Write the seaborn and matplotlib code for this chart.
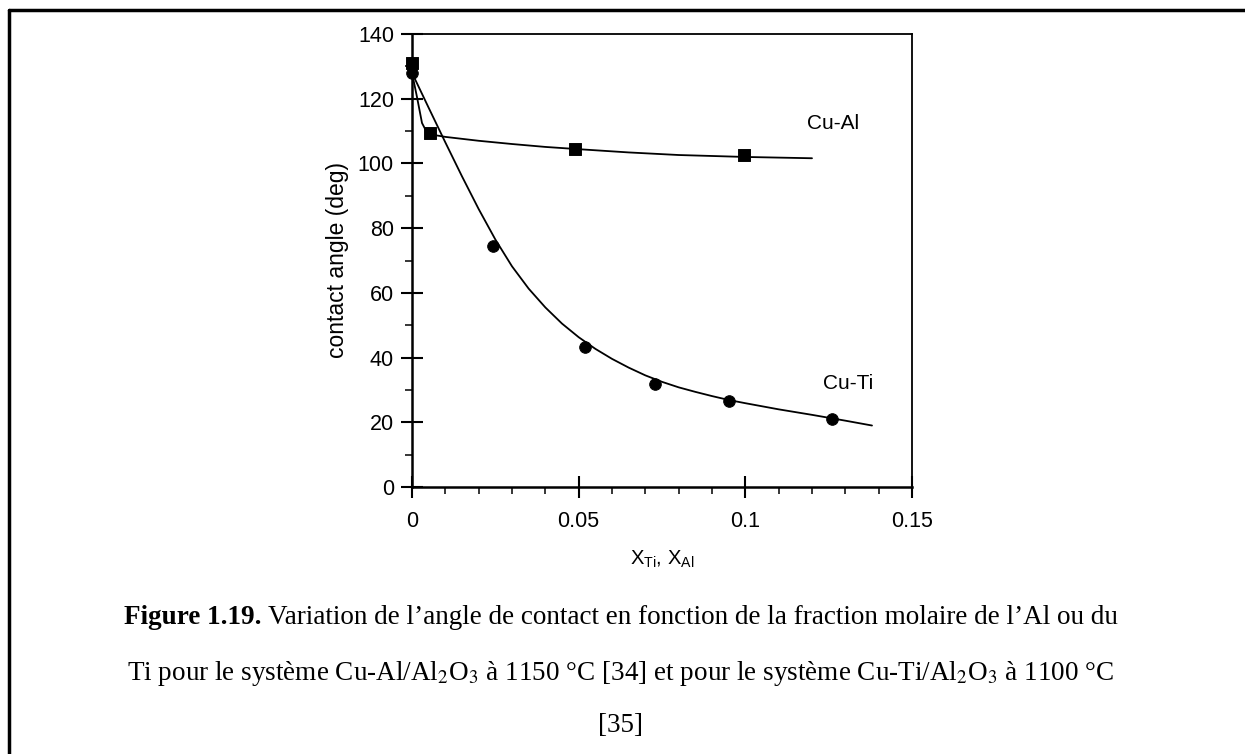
import numpy as np
import pandas as pd
import matplotlib
matplotlib.use("Agg")
import matplotlib.pyplot as plt
import seaborn as sns
from matplotlib.lines import Line2D
from matplotlib.ticker import MultipleLocator

# measured points
al_x = [0.0, 0.0055, 0.049, 0.0995]
al_y = [131.0, 109.3, 104.4, 102.6]
ti_x = [0.0, 0.0243, 0.052, 0.0728, 0.0952, 0.126]
ti_y = [128.0, 74.6, 43.4, 31.9, 26.6, 21.1]

# fitted curves
al_curve_x = [0.0, 0.0015, 0.003, 0.0045, 0.006, 0.01, 0.02, 0.03, 0.04, 0.05, 0.065, 0.08, 0.1, 0.12]
al_curve_y = [128.0, 120.5, 112.5, 109.5, 108.9, 108.2, 107.0, 106.0, 105.1, 104.4, 103.4, 102.6, 102.0, 101.6]
ti_curve_x = [0.0, 0.005, 0.01, 0.015, 0.02, 0.025, 0.03, 0.035, 0.04, 0.045, 0.05, 0.055,
              0.06, 0.065, 0.07, 0.075, 0.08, 0.085, 0.09, 0.095, 0.1, 0.11, 0.12, 0.13, 0.138]
ti_curve_y = [128.0, 117.2, 106.5, 96.0, 85.9, 76.5, 68.2, 61.3, 55.5, 50.5, 46.3, 42.7,
              39.6, 36.9, 34.5, 32.5, 30.8, 29.4, 28.1, 26.9, 25.9, 24.0, 22.3, 20.5, 19.0]

sns.set_style("white")
plt.rcParams['font.family'] = ['Liberation Sans', 'DejaVu Sans']
plt.rcParams['text.color'] = 'black'
plt.rcParams['axes.labelcolor'] = 'black'

fig = plt.figure(figsize=(12.45, 7.54), dpi=100)
ax = fig.add_axes([412/1245, 267/754, 500/1245, 453/754])

sns.lineplot(x=al_curve_x, y=al_curve_y, ax=ax, color="black", lw=1.3, sort=False)
sns.lineplot(x=ti_curve_x, y=ti_curve_y, ax=ax, color="black", lw=1.3, sort=False)
sns.scatterplot(x=al_x, y=al_y, ax=ax, marker="s", s=70, color="black", edgecolor="black", zorder=5, clip_on=False)
sns.scatterplot(x=ti_x, y=ti_y, ax=ax, marker="o", s=70, color="black", edgecolor="black", zorder=5, clip_on=False)

ax.set_xlim(0, 0.15)
ax.set_ylim(0, 140)
ax.set_xticks([0, 0.05, 0.1, 0.15])
ax.set_xticklabels(["0", "0.05", "0.1", "0.15"])
ax.set_yticks(range(0, 141, 20))
ax.xaxis.set_minor_locator(MultipleLocator(0.01))
ax.yaxis.set_minor_locator(MultipleLocator(10))
ax.tick_params(which="major", direction="inout", length=16, width=1.5, labelsize=15.5,
               left=True, bottom=True, right=False, top=False, pad=5, colors="black")
ax.tick_params(which="minor", direction="out", length=5, width=1.3,
               left=True, bottom=True, right=False, top=False)
ax.tick_params(axis="x", pad=9)
for s in ax.spines.values():
    s.set_color("black")
    s.set_linewidth(1.3)
ax.spines["left"].set_linewidth(1.8)
ax.spines["bottom"].set_linewidth(1.8)

ax.set_xlabel("X$_{\\mathregular{Ti}}$, X$_{\\mathregular{Al}}$", fontsize=14.5, labelpad=12)
ax.set_ylabel("contact angle (deg)", fontsize=16.5, labelpad=6)

ax.text(0.1185, 112.2, "Cu-Al", fontsize=15, ha="left", va="center")
ax.text(0.1232, 32.1, "Cu-Ti", fontsize=15, ha="left", va="center")

# caption
serif = ['Liberation Serif', 'DejaVu Serif']
cap_size = 19.5
line1_y = 1 - 617/754
t_bold = fig.text(0, line1_y, "Figure 1.19.", ha="left", va="center", fontsize=cap_size,
                  family=serif, weight="bold")
t_rest = fig.text(0, line1_y,
                  "Variation de l\u2019angle de contact en fonction de la fraction molaire de l\u2019Al ou du",
                  ha="left", va="center", fontsize=cap_size, family=serif)
fig.canvas.draw()
w_bold = t_bold.get_window_extent().width
w_rest = t_rest.get_window_extent().width
gap = 6
x0 = 621 - (w_bold + gap + w_rest) / 2
t_bold.set_x(x0 / 1245)
t_rest.set_x((x0 + w_bold + gap) / 1245)
fig.text(621/1245, 1 - 673/754,
         "Ti pour le syst\u00e8me Cu-Al/Al$_2$O$_3$ \u00e0 1150 \u00b0C [34] et pour le syst\u00e8me Cu-Ti/Al$_2$O$_3$ \u00e0 1100 \u00b0C",
         ha="center", va="center", fontsize=cap_size, family=serif, math_fontfamily="stix")
fig.text(621/1245, 1 - 725/754, "[35]", ha="center", va="center", fontsize=cap_size, family=serif)

# page frame
fig.add_artist(Line2D([9/1245, 9/1245], [0, 1 - 10/754], color="black", lw=2.5, transform=fig.transFigure))
fig.add_artist(Line2D([9/1245, 1], [1 - 10/754, 1 - 10/754], color="black", lw=2.5, transform=fig.transFigure))

fig.savefig("out.png", dpi=100, facecolor="white")
